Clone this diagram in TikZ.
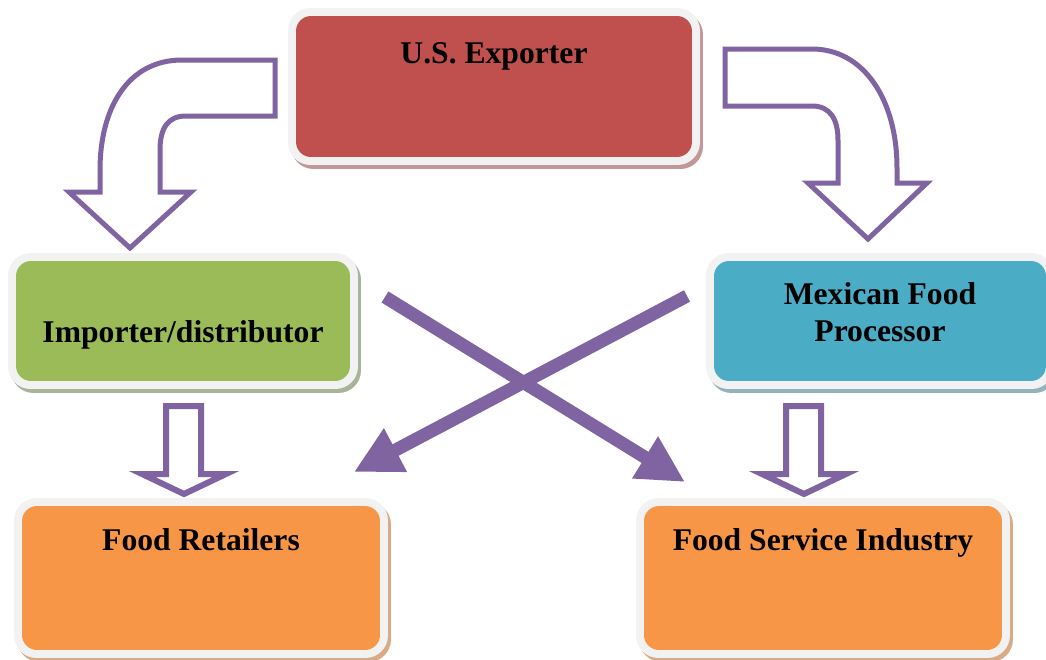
\documentclass[tikz,border=0pt]{standalone}
\usepackage{fontspec}
\setmainfont{Liberation Serif}
\usetikzlibrary{arrows.meta,shadows}

\definecolor{exportred}{HTML}{C0504D}
\definecolor{importgreen}{HTML}{9BBB59}
\definecolor{processblue}{HTML}{4BACC6}
\definecolor{retailorange}{HTML}{F79646}
\definecolor{flowpurple}{HTML}{8064A2}
\definecolor{framegray}{HTML}{F2F2F2}
\definecolor{redshade}{HTML}{C29797}
\definecolor{greenshade}{HTML}{A8B498}
\definecolor{blueshade}{HTML}{93B3BC}
\definecolor{orangeshade}{HTML}{D8AA86}

\begin{document}
\begin{tikzpicture}[
                x=0.02cm, y=-0.02cm,
                box/.style 2 args={rounded corners=0.45cm, fill=framegray,
                            inner sep=0pt, outer sep=0pt, align=center,
                            font=\fontsize{18}{21}\selectfont\bfseries,
                            drop shadow={shadow xshift=0.06cm, shadow yshift=-0.08cm,
                                         fill=#2, opacity=1},
                            path picture={\fill[#1, rounded corners=0.3cm]
                              ([shift={(0.16cm,0.16cm)}]path picture bounding box.south west)
                              rectangle
                              ([shift={(-0.16cm,-0.16cm)}]path picture bounding box.north east);}},
                toptext/.style={text height=0.45cm, text depth=#1},
                hollow/.style={draw=flowpurple, fill=white, line width=0.1cm, line join=miter},
                cross/.style={draw=flowpurple, line width=0.26cm,
                              -{Triangle[length=0.94cm, width=0.92cm]}}
            ]
                \useasboundingbox (0,0) rectangle (1046,660);

                % bent arrows out of the exporter
                \draw[hollow] (275,60) -- (182,60)
                    .. controls (128,60) and (100,108) .. (100,170) -- (100,192)
                    -- (69,192) -- (130,248) -- (191,192) -- (160,192) -- (160,150)
                    .. controls (160,128) and (168,116) .. (186,116) -- (275,116) -- cycle;
                \draw[hollow] (725,49) -- (812,49)
                    .. controls (864,49) and (897,100) .. (897,168) -- (897,183)
                    -- (927,183) -- (868,239) -- (808,183) -- (838,183) -- (838,140)
                    .. controls (838,119) and (830,106) .. (812,106) -- (725,106) -- cycle;

                % straight arrows to the bottom row
                \draw[hollow, line width=0.12cm] (166,406) -- (201,406) -- (201,474)
                    -- (226,474) -- (184,494) -- (142,474) -- (166,474) -- cycle;
                \draw[hollow, line width=0.12cm] (786,406) -- (821,406) -- (821,474)
                    -- (846,474) -- (804,494) -- (762,474) -- (786,474) -- cycle;

                \node[box={exportred}{redshade}, toptext=1.39cm,
                      minimum width=8.24cm, minimum height=3.14cm] (exporter) at (494,86.5) {U.S. Exporter};
                \node[box={importgreen}{greenshade}, text height=0.99cm, text depth=0.15cm,
                      minimum width=7cm, minimum height=2.72cm] (importer) at (183,321) {Importer/distributor};
                \node[box={processblue}{blueshade}, text height=0.95cm, text depth=0.15cm,
                      minimum width=6.96cm, minimum height=2.72cm] (processor) at (880,321) {Mexican Food\\Processor};
                \node[box={retailorange}{orangeshade}, toptext=1.57cm,
                      minimum width=7.48cm, minimum height=3.2cm] (retailers) at (201,578) {Food Retailers};
                \node[box={retailorange}{orangeshade}, toptext=1.57cm,
                      minimum width=7.48cm, minimum height=3.2cm] (service) at (823,578) {Food Service Industry};

                \draw[cross] ([shift={(27,-24)}]importer.east) -- ([shift={(49,-16)}]service.north west);
                \draw[cross] ([shift={(-19,-25)}]processor.west) -- ([shift={(-34,-26)}]retailers.north east);
            \end{tikzpicture}
\end{document}
